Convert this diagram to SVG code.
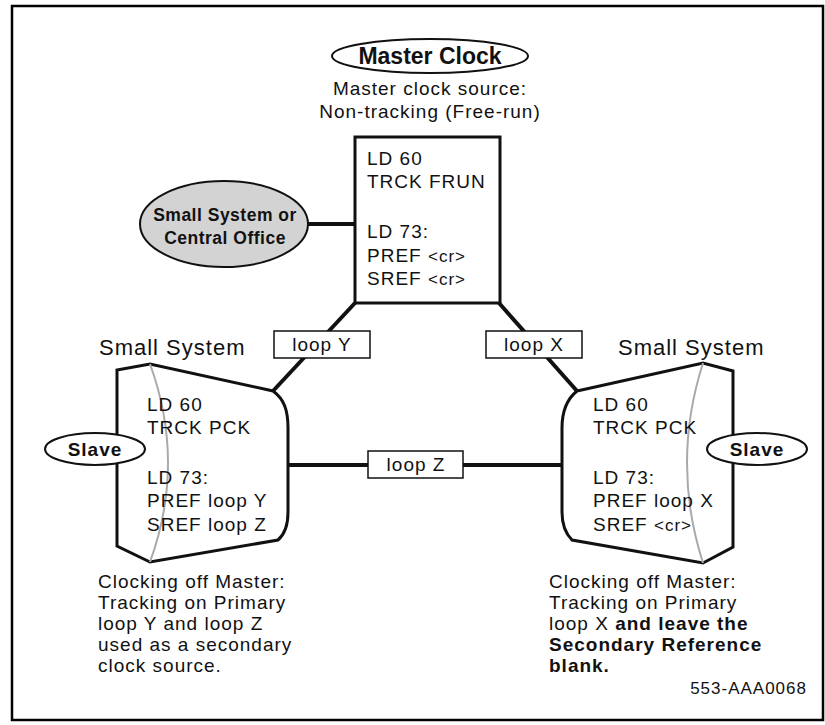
<svg xmlns="http://www.w3.org/2000/svg" width="825" height="725" viewBox="0 0 825 725">
<style>
text{font-family:"Liberation Sans",Arial,sans-serif;fill:#111}
.t{font-size:19px;letter-spacing:1px}
.s{font-size:17px}
.b{font-weight:bold}
.big{font-size:22px;letter-spacing:1px}
.out{fill:#fff;stroke:#111;stroke-width:3}
.lbl{fill:#fff;stroke:#111;stroke-width:1.5}
.el{fill:#fff;stroke:#111;stroke-width:2}
.ln{stroke:#111;stroke-width:4;fill:none}
.gr{stroke:#aaa;stroke-width:2;fill:none}
</style>
<rect x="12" y="6" width="811" height="714" fill="#fff" stroke="#000" stroke-width="2.5"/>
<g id="connectors">
<line class="ln" x1="355" y1="303" x2="273" y2="391"/>
<line class="ln" x1="499" y1="303" x2="577" y2="391"/>
<line class="ln" x1="288" y1="465" x2="563" y2="465"/>
<line class="ln" stroke-width="3" x1="308" y1="224" x2="355" y2="224"/>
</g>
<g id="master-clock">
<ellipse class="el" cx="430" cy="56" rx="98" ry="17"/>
<text class="b" font-size="23" x="430" y="64" text-anchor="middle">Master Clock</text>
<text class="t" x="430" y="95" text-anchor="middle">Master clock source:</text>
<text class="t" x="430" y="118" text-anchor="middle">Non-tracking (Free-run)</text>
</g>
<g id="master-box">
<rect class="out" x="355" y="137" width="145" height="166"/>
<text class="t" x="367" y="165">LD 60</text>
<text class="t" x="367" y="188">TRCK FRUN</text>
<text class="t" x="367" y="238">LD 73:</text>
<text class="t" x="367" y="262">PREF <tspan class="s">&lt;cr&gt;</tspan></text>
<text class="t" x="367" y="285">SREF <tspan class="s">&lt;cr&gt;</tspan></text>
</g>
<g id="central-office">
<ellipse cx="224" cy="224" rx="84" ry="43" fill="#d3d3d3" stroke="#111" stroke-width="2"/>
<text class="b" font-size="17.5" letter-spacing="0.5" x="225" y="221" text-anchor="middle">Small System or</text>
<text class="b" font-size="17.5" letter-spacing="0.5" x="225" y="244" text-anchor="middle">Central Office</text>
</g>
<g id="loop-y">
<rect class="lbl" x="274" y="331" width="96" height="27"/>
<text class="t" x="322" y="351" text-anchor="middle">loop Y</text>
</g>
<g id="loop-x">
<rect class="lbl" x="486" y="331" width="96" height="27"/>
<text class="t" x="534" y="351" text-anchor="middle">loop X</text>
</g>
<g id="loop-z">
<rect class="lbl" x="368" y="451" width="95" height="27"/>
<text class="t" x="416" y="471" text-anchor="middle">loop Z</text>
</g>
<g id="left-system">
<text class="big" x="99" y="355">Small System</text>
<path class="out" d="M117,546 L117,370 L150,364 L273,391 C284,399 288,410 288,428 L288,512 C288,526 285,534 278,540 L150,562 Z"/>
<path class="gr" d="M150,364 Q186,463 150,562"/>
<text class="t" x="147" y="411">LD 60</text>
<text class="t" x="147" y="434">TRCK PCK</text>
<text class="t" x="147" y="484">LD 73:</text>
<text class="t" x="147" y="507">PREF loop Y</text>
<text class="t" x="147" y="531">SREF loop Z</text>
<ellipse class="el" cx="95" cy="449" rx="50" ry="16"/>
<text class="t b" x="95" y="456" text-anchor="middle">Slave</text>
<text class="t" x="98" y="588">Clocking off Master:</text>
<text class="t" x="98" y="609">Tracking on Primary</text>
<text class="t" x="98" y="630">loop Y and loop Z</text>
<text class="t" x="98" y="651">used as a secondary</text>
<text class="t" x="98" y="672">clock source.</text>
</g>
<g id="right-system">
<text class="big" x="618" y="355">Small System</text>
<path class="out" d="M577,391 L703,363 L733,371 L733,547 L703,563 L572,540 C565,533 562,524 562,512 L562,428 C562,410 567,399 577,391 Z"/>
<path class="gr" d="M703,363 Q671,463 703,563"/>
<text class="t" x="593" y="411">LD 60</text>
<text class="t" x="593" y="434">TRCK PCK</text>
<text class="t" x="593" y="484">LD 73:</text>
<text class="t" x="593" y="507">PREF loop X</text>
<text class="t" x="593" y="531">SREF <tspan class="s">&lt;cr&gt;</tspan></text>
<ellipse class="el" cx="757" cy="449" rx="50" ry="16"/>
<text class="t b" x="757" y="456" text-anchor="middle">Slave</text>
<text class="t" x="549" y="588">Clocking off Master:</text>
<text class="t" x="549" y="609">Tracking on Primary</text>
<text class="t" x="549" y="630">loop X <tspan class="b">and leave the</tspan></text>
<text class="t b" x="549" y="651">Secondary Reference</text>
<text class="t b" x="549" y="672">blank.</text>
</g>
<text font-size="17" letter-spacing="1" x="807" y="694" text-anchor="end">553-AAA0068</text>
</svg>
